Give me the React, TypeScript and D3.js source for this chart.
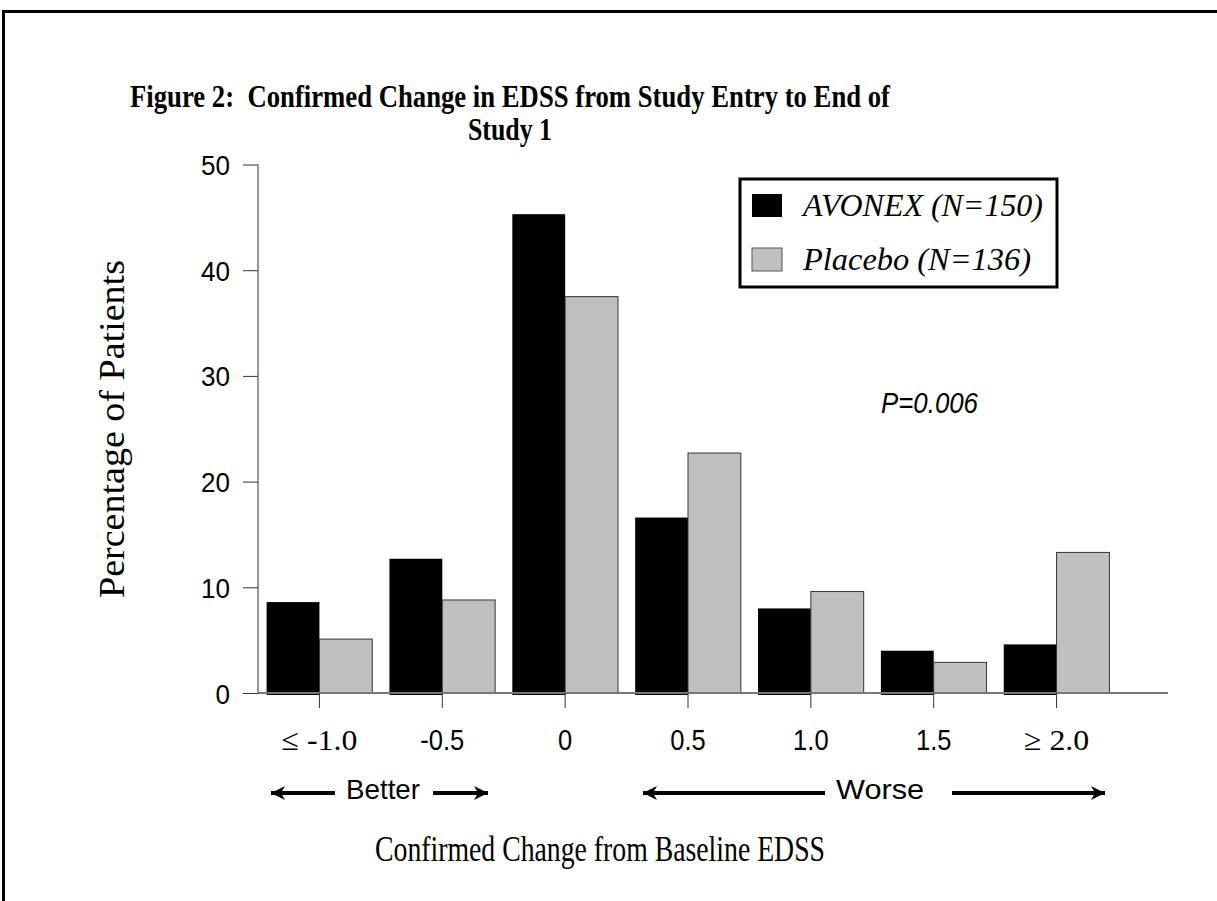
import { useEffect, useRef } from "react";
import * as d3 from "d3";

// values (percentage of patients)
const categories = ["≤ -1.0", "-0.5", "0", "0.5", "1.0", "1.5", "≥ 2.0"];
const avonex = [8.6, 12.7, 45.3, 16.6, 8.0, 4.0, 4.6];
const placebo = [5.1, 8.8, 37.5, 22.7, 9.6, 2.9, 13.3];
const seriesNames = ["AVONEX (N=150)", "Placebo (N=136)"];
const seriesColors = ["#000000", "#c0c0c0"];
const yTicks = [0, 10, 20, 30, 40, 50];

const SERIF = "'Liberation Serif', 'Times New Roman', serif";
const SANS = "'Liberation Sans', Arial, sans-serif";

type Row = { cat: string; key: number; value: number };

const isSerifLabel = (d: string) => d.startsWith("≤") || d.startsWith("≥");

const App = () => {
  const svgRef = useRef<SVGSVGElement | null>(null);
  const W = 1217;
  const H = 901;

  useEffect(() => {
    if (!svgRef.current) return;
    const svg = d3.select(svgRef.current);
    svg.selectAll("*").remove();

    const left = 258;
    const bottom = 693;

    const x = d3
      .scaleBand<string>()
      .domain(categories)
      .range([left, 1118])
      .paddingInner(0.14)
      .paddingOuter(0.07);
    const xSub = d3
      .scaleBand<number>()
      .domain([0, 1])
      .range([0, x.bandwidth()]);
    const y = d3.scaleLinear().domain([0, 50]).range([bottom, 164.5]);

    // squeeze / stretch text horizontally, like the source scan
    const squeeze = (sel: d3.Selection<SVGTextElement, any, any, any>, k: (d: any) => number) => {
      sel.each(function (d) {
        const len = this.getComputedTextLength();
        d3.select(this).attr("textLength", len * k(d)).attr("lengthAdjust", "spacingAndGlyphs");
      });
    };

    // outer frame (only top + left visible in the source)
    svg
      .append("path")
      .attr("d", `M3.5,${H} L3.5,11.5 L${W},11.5`)
      .attr("fill", "none")
      .attr("stroke", "#000")
      .attr("stroke-width", 3);

    // title
    const title = svg
      .append("g")
      .attr("font-family", SERIF)
      .attr("font-weight", "bold")
      .attr("font-size", 31)
      .attr("text-anchor", "middle");
    title
      .append("text")
      .attr("x", 510)
      .attr("y", 107)
      .attr("textLength", 760)
      .attr("lengthAdjust", "spacingAndGlyphs")
      .text("Figure 2:\u00a0\u00a0Confirmed Change in EDSS from Study Entry to End of");
    title
      .append("text")
      .attr("x", 510)
      .attr("y", 140)
      .attr("textLength", 84)
      .attr("lengthAdjust", "spacingAndGlyphs")
      .text("Study 1");

    // bars
    const rows: Row[] = [];
    categories.forEach((c, i) => {
      rows.push({ cat: c, key: 0, value: avonex[i] });
      rows.push({ cat: c, key: 1, value: placebo[i] });
    });
    svg
      .append("g")
      .selectAll("rect")
      .data(rows)
      .join("rect")
      .attr("x", (d) => (x(d.cat) ?? 0) + (xSub(d.key) ?? 0))
      .attr("y", (d) => y(d.value))
      .attr("width", xSub.bandwidth())
      .attr("height", (d) => bottom - y(d.value) + (d.key === 0 ? 2 : 0))
      .attr("fill", (d) => seriesColors[d.key])
      .attr("stroke", (d) => (d.key === 1 ? "#333" : "none"))
      .attr("stroke-width", 1);

    // y axis
    const yAxis = svg
      .append("g")
      .attr("transform", `translate(${left},0)`)
      .call(d3.axisLeft(y).tickValues(yTicks).tickSize(15).tickPadding(13));
    yAxis.select(".domain").attr("stroke", "#333").attr("d", `M0,${y(50)}V${bottom}`);
    yAxis.selectAll(".tick line").attr("stroke", "#333");
    yAxis
      .selectAll<SVGTextElement, number>(".tick text")
      .attr("font-family", SANS)
      .attr("font-size", 28)
      .attr("fill", "#000")
      .attr("dy", "0.36em")
      .call(squeeze, () => 0.93);

    // x axis
    const xAxis = svg
      .append("g")
      .attr("transform", `translate(0,${bottom})`)
      .call(d3.axisBottom(x).tickSize(15).tickPadding(0));
    xAxis
      .select(".domain")
      .attr("stroke", "#777")
      .attr("stroke-width", 2)
      .attr("d", `M${left},0H1168`);
    xAxis.selectAll(".tick line").attr("stroke", "#333");
    xAxis
      .selectAll<SVGTextElement, string>(".tick text")
      .attr("font-family", (d) => (isSerifLabel(d) ? SERIF : SANS))
      .attr("font-size", (d) => (isSerifLabel(d) ? 30 : 29))
      .attr("fill", "#000")
      .attr("dy", 0)
      .attr("y", 57)
      .call(squeeze, (d: string) => (isSerifLabel(d) ? 1.06 : 0.88));

    // axis titles
    svg
      .append("text")
      .attr("transform", `translate(124,429) rotate(-90)`)
      .attr("text-anchor", "middle")
      .attr("font-family", SERIF)
      .attr("font-size", 36)
      .attr("textLength", 338)
      .attr("lengthAdjust", "spacingAndGlyphs")
      .text("Percentage of Patients");
    svg
      .append("text")
      .attr("x", 600)
      .attr("y", 861)
      .attr("text-anchor", "middle")
      .attr("font-family", SERIF)
      .attr("font-size", 35)
      .attr("textLength", 450)
      .attr("lengthAdjust", "spacingAndGlyphs")
      .text("Confirmed Change from Baseline EDSS");

    // Better / Worse arrows
    const arrowY = 793;
    const arrow = (x1: number, x2: number, headAt: number) => {
      svg
        .append("line")
        .attr("x1", x1)
        .attr("x2", x2)
        .attr("y1", arrowY)
        .attr("y2", arrowY)
        .attr("stroke", "#000")
        .attr("stroke-width", 4);
      const s = headAt === x1 ? 1 : -1;
      svg
        .append("path")
        .attr(
          "d",
          `M${headAt},${arrowY} L${headAt + s * 14},${arrowY - 7} L${headAt + s * 10},${arrowY} L${headAt + s * 14},${arrowY + 7} Z`
        )
        .attr("fill", "#000");
    };
    arrow(271, 335, 271);
    arrow(433, 488, 488);
    arrow(643, 825, 643);
    arrow(952, 1105, 1105);
    svg
      .append("text")
      .attr("x", 346)
      .attr("y", 799)
      .attr("font-family", SANS)
      .attr("font-size", 28)
      .attr("textLength", 74)
      .attr("lengthAdjust", "spacingAndGlyphs")
      .text("Better");
    svg
      .append("text")
      .attr("x", 836)
      .attr("y", 799)
      .attr("font-family", SANS)
      .attr("font-size", 28)
      .attr("textLength", 88)
      .attr("lengthAdjust", "spacingAndGlyphs")
      .text("Worse");

    // p value
    svg
      .append("text")
      .attr("x", 881)
      .attr("y", 413)
      .attr("font-family", SANS)
      .attr("font-style", "italic")
      .attr("font-size", 29)
      .attr("textLength", 97)
      .attr("lengthAdjust", "spacingAndGlyphs")
      .text("P=0.006");

    // legend
    const lg = svg.append("g");
    lg.append("rect")
      .attr("x", 740)
      .attr("y", 179)
      .attr("width", 317)
      .attr("height", 108)
      .attr("fill", "#fff")
      .attr("stroke", "#000")
      .attr("stroke-width", 3);
    seriesNames.forEach((name, i) => {
      const yy = 194 + i * 54;
      lg.append("rect")
        .attr("x", 752)
        .attr("y", yy)
        .attr("width", 30)
        .attr("height", 23)
        .attr("fill", seriesColors[i])
        .attr("stroke", i === 1 ? "#555" : "none");
      lg.append("text")
        .attr("x", 803)
        .attr("y", yy + 22)
        .attr("font-family", SERIF)
        .attr("font-style", "italic")
        .attr("font-size", 31)
        .attr("textLength", i === 0 ? 240 : 228)
        .attr("lengthAdjust", "spacingAndGlyphs")
        .text(name);
    });
  }, []);

  return (
    <svg
      ref={svgRef}
      width={W}
      height={H}
      style={{ position: "absolute", left: 0, top: 0, background: "#fff" }}
    />
  );
};

export default App;
